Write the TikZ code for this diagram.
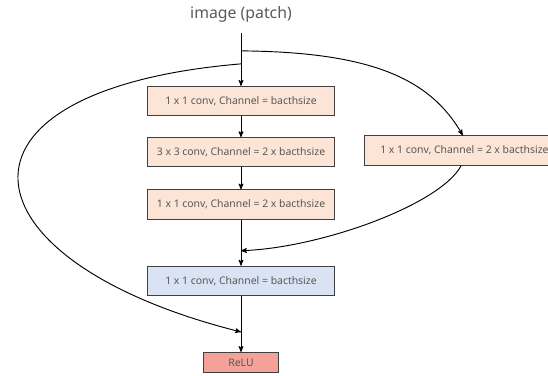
\documentclass[tikz,border=0pt]{standalone}
\usepackage{fontspec}
\setmainfont{Noto Sans}
\usetikzlibrary{positioning,arrows}

\definecolor{peach}{HTML}{FCE4D6}
\definecolor{paleblue}{HTML}{DAE3F3}
\definecolor{salmon}{HTML}{F4A199}
\definecolor{textgray}{HTML}{595959}

\tikzset{
  convbox/.style={draw=black!75, fill=peach, minimum width=5.6cm, minimum height=0.88cm,
    inner sep=0pt, text=textgray, font=\fontsize{8.9}{11}\selectfont},
  mergebox/.style={convbox, fill=paleblue},
  relubox/.style={convbox, fill=salmon, minimum width=2.25cm, minimum height=0.6cm}
}

\begin{document}
\begin{tikzpicture}[x=0.3mm,y=0.3mm,>=stealth',line width=0.8pt]

  \useasboundingbox (0,0) rectangle (548,-375);
  \clip (0,0) rectangle (548,-375);

  % Input
  \node [text=textgray,font=\fontsize{13.5}{16}\selectfont] (img) at (241,-14) {image (patch)};

  % Main branch
  \node [convbox] (c1) at (241,-101) {1 x 1 conv, Channel = bacthsize};
  \node [convbox,below=0.63cm of c1] (c2) {3 x 3 conv, Channel = 2 x bacthsize};
  \node [convbox,below=0.66cm of c2] (c3) {1 x 1 conv, Channel = 2 x bacthsize};
  \node [mergebox,below=1.38cm of c3] (c4) {1 x 1 conv, Channel = bacthsize};
  \node [relubox,below=1.68cm of c4] (relu) {ReLU};

  % Shortcut branch
  \node [convbox,minimum width=6cm,anchor=west] (sc) at (364,-150.5) {1 x 1 conv, Channel = 2 x bacthsize};

  % Split and join points
  \coordinate (sr) at ([yshift=1.05cm]c1.north);
  \coordinate (sl) at ([yshift=0.66cm]c1.north);
  \coordinate (jr) at ([yshift=0.45cm]c4.north);
  \coordinate (jl) at ([yshift=0.6cm]relu.north);

  \draw [->] ([yshift=-0.2cm]img.south) -- (c1);
  \draw [->] (c1) -- (c2);
  \draw [->] (c2) -- (c3);
  \draw [->] (c3) -- (c4);
  \draw [->] (c4) -- (relu);

  % Skip connections
  \draw [->] (sl) .. controls (-70,-90) and (-42,-261) .. (jl);
  \draw [->] (sr) .. controls (370,-52) and (430,-78) .. ([xshift=-0.05cm]sc.north);
  \draw [->] ([xshift=-0.1cm]sc.south) .. controls (440,-205) and (320,-248) .. (jr);

\end{tikzpicture}
\end{document}
